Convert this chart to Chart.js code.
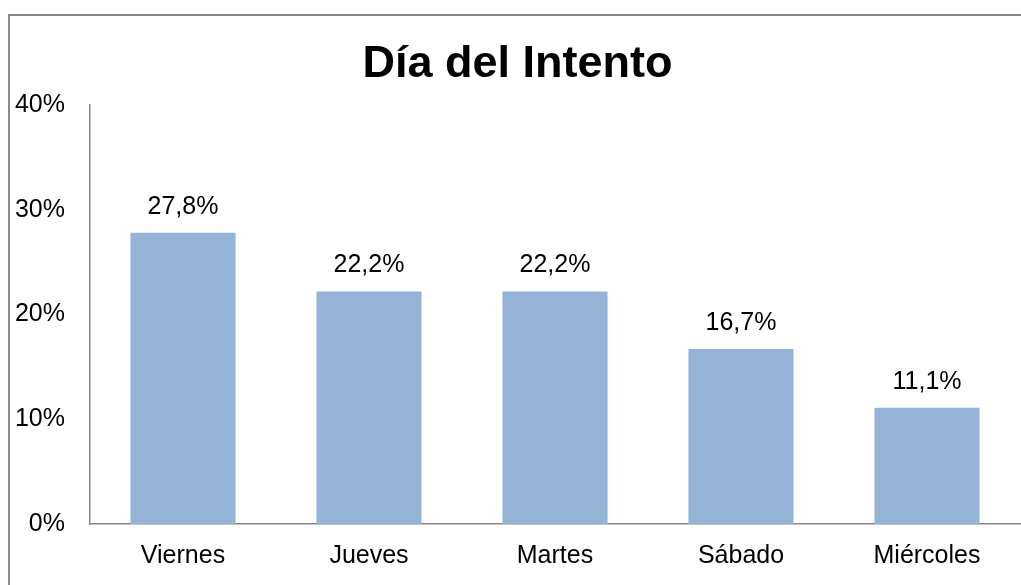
<!DOCTYPE html>
<html>
<head>
<meta charset="utf-8">
<script src="https://cdn.jsdelivr.net/npm/chart.js@4/dist/chart.umd.min.js"></script>
<style>
  html, body { margin: 0; padding: 0; background: #fff; }
  #wrap { width: 1021px; height: 585px; position: relative; }
</style>
</head>
<body>
<div id="wrap"><canvas id="chart" width="1021" height="585"></canvas></div>
<script>
const dias = ["Viernes", "Jueves", "Martes", "Sábado", "Miércoles"];
const porcentajes = [27.8, 22.2, 22.2, 16.7, 11.1];
const yTicks = [0, 10, 20, 30, 40];

const fontFamily = "'Liberation Sans', Arial, sans-serif";

// marco gris del gráfico (izquierda y arriba)
const frame = {
  id: "frame",
  beforeDraw(chart) {
    const ctx = chart.ctx;
    ctx.save();
    ctx.strokeStyle = "#8a8a8a";
    ctx.lineWidth = 2;
    ctx.beginPath();
    ctx.moveTo(9, chart.height);
    ctx.lineTo(9, 15);
    ctx.lineTo(chart.width, 15);
    ctx.stroke();
    ctx.restore();
  },
};

// etiquetas de valor encima de cada barra
const valueLabels = {
  id: "valueLabels",
  afterDatasetsDraw(chart) {
    const ctx = chart.ctx;
    const meta = chart.getDatasetMeta(0);
    ctx.save();
    ctx.font = "25px " + fontFamily;
    ctx.fillStyle = "#000";
    ctx.textAlign = "center";
    ctx.textBaseline = "alphabetic";
    meta.data.forEach((bar, i) => {
      const txt = porcentajes[i].toFixed(1).replace(".", ",") + "%";
      ctx.fillText(txt, bar.x, bar.y - 19);
    });
    ctx.restore();
  },
};

const ctx = document.getElementById("chart").getContext("2d");
new Chart(ctx, {
  type: "bar",
  data: {
    labels: dias,
    datasets: [
      {
        data: porcentajes,
        backgroundColor: "#95b3d7",
        borderWidth: 0,
        categoryPercentage: 1,
        barPercentage: 0.565,
      },
    ],
  },
  options: {
    responsive: false,
    animation: false,
    layout: { padding: { left: 15, right: 1, top: 16, bottom: 0 } },
    plugins: {
      legend: { display: false },
      tooltip: { enabled: false },
      title: {
        display: true,
        text: "Día del Intento",
        color: "#000",
        font: { family: fontFamily, size: 45, weight: "bold" },
        padding: { top: 22, bottom: 13 },
      },
    },
    scales: {
      y: {
        min: yTicks[0],
        max: yTicks[yTicks.length - 1],
        afterBuildTicks: (scale) => {
          scale.ticks = yTicks.map((v) => ({ value: v }));
        },
        afterFit: (scale) => {
          scale.width = 75;
        },
        grid: { display: false, drawTicks: false },
        border: { display: true, color: "#868686", width: 1.5 },
        ticks: {
          color: "#000",
          padding: 25,
          font: { family: fontFamily, size: 25 },
          callback: (v) => v + "%",
        },
      },
      x: {
        afterFit: (scale) => {
          scale.height = 61;
        },
        grid: { display: false, drawTicks: false },
        border: { display: true, color: "#868686", width: 1.5 },
        ticks: {
          color: "#000",
          padding: 17,
          maxRotation: 0,
          font: { family: fontFamily, size: 25 },
        },
      },
    },
  },
  plugins: [frame, valueLabels],
});
</script>
</body>
</html>
